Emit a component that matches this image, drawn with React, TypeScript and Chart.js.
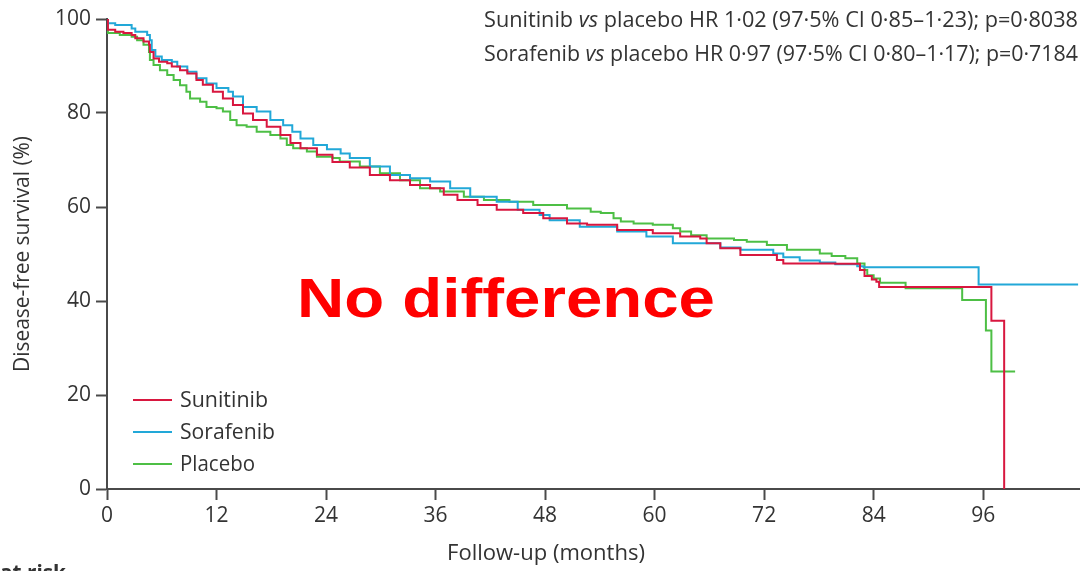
import { useEffect, useRef } from 'react';
import { Chart, registerables } from 'chart.js';

Chart.register(...registerables);

const FONT = '"Open Sans", Lato, sans-serif';
const TEXT_COLOR = '#333333';

// Kaplan–Meier step data: month of event, survival (%) after the event
const sunitinibMonths = [0, 0.1, 0.9, 1.8, 2.7, 3.1, 4.0, 4.6, 4.7, 5.1, 5.7, 6.6, 7.1, 8.0, 8.8, 9.8, 10.5, 11.6, 12.7, 13.8, 14.9, 16.0, 17.5, 19.0, 20.1, 21.2, 23.0, 24.7, 26.6, 28.8, 31.0, 33.2, 35.4, 36.9, 38.4, 40.6, 42.7, 45.6, 47.8, 50.4, 52.6, 55.9, 59.8, 62.8, 65.0, 65.7, 67.2, 69.4, 73.4, 74.1, 79.8, 82.5, 83.0, 83.8, 84.3, 84.6, 96.9, 98.3];
const sunitinibSurvival = [100, 97.7, 97.3, 97.0, 96.6, 95.9, 95.2, 94.5, 93.0, 91.6, 90.9, 90.6, 89.9, 89.1, 88.4, 87.0, 86.0, 84.5, 83.1, 81.7, 79.9, 78.5, 77.1, 75.3, 73.6, 72.5, 71.1, 69.6, 68.4, 66.8, 65.7, 64.7, 64.0, 62.6, 61.5, 60.4, 59.4, 58.7, 57.6, 56.5, 56.2, 55.1, 54.4, 53.7, 53.3, 52.3, 51.2, 49.8, 48.7, 48.0, 47.9, 46.6, 45.3, 44.6, 44.1, 43.0, 35.8, 0];

const sorafenibMonths = [0, 0.1, 0.9, 2.7, 3.1, 4.4, 4.7, 4.9, 5.3, 6.0, 7.1, 7.7, 8.8, 9.8, 10.9, 12.0, 13.3, 13.8, 14.9, 16.4, 17.9, 19.3, 20.3, 21.2, 22.6, 24.1, 25.6, 26.6, 28.8, 31.0, 33.2, 35.4, 37.6, 39.8, 42.7, 45.0, 47.4, 48.5, 51.8, 55.9, 59.1, 62.0, 67.2, 69.4, 73.0, 74.1, 75.9, 78.1, 79.8, 82.2, 82.9, 95.5, 106.4];
const sorafenibSurvival = [100, 99.1, 98.7, 98.0, 97.3, 96.6, 95.5, 93.4, 92.0, 91.3, 90.9, 89.9, 88.8, 87.4, 86.3, 85.3, 84.5, 83.5, 81.3, 80.3, 78.5, 77.4, 76.0, 74.6, 73.2, 72.3, 71.4, 70.4, 68.6, 66.8, 66.1, 65.4, 64.0, 62.2, 61.1, 59.4, 58.3, 57.2, 55.8, 54.8, 53.7, 52.3, 51.4, 50.9, 50.1, 49.3, 48.6, 48.2, 47.8, 47.4, 47.2, 43.5, 43.5];

const placeboMonths = [0, 0.1, 1.4, 2.7, 3.3, 4.0, 4.6, 4.7, 5.1, 5.8, 6.6, 7.3, 8.0, 8.7, 9.1, 10.2, 10.9, 12.0, 12.7, 13.5, 14.2, 15.3, 16.4, 17.9, 19.0, 19.7, 20.4, 21.9, 23.0, 24.7, 25.5, 27.7, 29.9, 32.1, 34.3, 36.5, 39.1, 41.3, 44.1, 46.7, 50.4, 53.0, 54.1, 55.5, 56.3, 57.7, 59.8, 62.0, 62.8, 64.0, 65.7, 68.7, 70.1, 72.3, 74.5, 78.1, 79.4, 80.9, 82.2, 83.0, 83.3, 84.0, 84.7, 87.5, 93.7, 96.3, 96.9, 99.5];
const placeboSurvival = [100, 97.0, 96.6, 96.2, 95.5, 94.5, 93.0, 91.3, 90.2, 89.1, 88.1, 87.0, 85.9, 84.5, 83.1, 82.4, 81.3, 81.0, 80.3, 78.5, 77.4, 77.1, 76.0, 75.3, 74.6, 73.2, 72.5, 71.8, 70.7, 70.4, 69.7, 68.6, 67.2, 65.7, 64.0, 63.3, 62.2, 61.5, 61.1, 60.4, 59.7, 59.0, 58.7, 57.6, 56.9, 56.5, 56.2, 55.5, 54.8, 54.0, 53.3, 53.0, 52.6, 51.9, 50.9, 50.1, 49.6, 49.1, 48.0, 46.6, 45.5, 44.8, 43.9, 42.7, 40.2, 33.7, 25.0, 25.0];

const seriesNames = ['Sunitinib', 'Sorafenib', 'Placebo'];
const seriesColors = ['#d8173f', '#22a8d8', '#4dbf45'];

const annotationLines = [
  ['Sunitinib ', 'vs', ' placebo HR 1·02 (97·5% CI 0·85–1·23); p=0·8038'],
  ['Sorafenib ', 'vs', ' placebo HR 0·97 (97·5% CI 0·80–1·17); p=0·7184'],
];
const bigLabel = 'No difference';
const yTitle = 'Disease-free survival (%)';
const xTitle = 'Follow-up (months)';
const riskLabel = 'at risk';

const toPoints = (ms: number[], vs: number[]) => ms.map((m, i) => ({ x: m, y: vs[i] }));

// draw text with a horizontal squeeze so it fills a target width (condensed look)
function drawCondensed(
  ctx: CanvasRenderingContext2D,
  text: string,
  x: number,
  y: number,
  font: string,
  width: number,
  align: 'left' | 'center' | 'right',
) {
  ctx.font = font;
  const w = ctx.measureText(text).width;
  const sx = width / w;
  ctx.save();
  ctx.translate(x, y);
  ctx.scale(sx, 1);
  ctx.textAlign = align;
  ctx.fillText(text, 0, 0);
  ctx.restore();
}

const textPlugin = {
  id: 'texts',
  afterDraw(chart: any) {
    const ctx: CanvasRenderingContext2D = chart.ctx;
    ctx.save();
    ctx.fillStyle = TEXT_COLOR;
    ctx.textBaseline = 'alphabetic';

    // annotation (right aligned, mixed italic, condensed)
    const aSize = 22;
    const fontFor = (i: number) => `${i === 1 ? 'italic ' : ''}${aSize}px ${FONT}`;
    const measureLine = (segs: string[]) =>
      segs.reduce((w, s, i) => {
        ctx.font = fontFor(i);
        return w + ctx.measureText(s).width;
      }, 0);
    const targetW = [594, 594];
    const baselines = [27, 61];
    annotationLines.forEach((segs, li) => {
      const total = measureLine(segs);
      const sx = targetW[li] / total;
      ctx.save();
      ctx.translate(1078 - targetW[li], baselines[li]);
      ctx.scale(sx, 1);
      let x = 0;
      segs.forEach((s, i) => {
        ctx.font = fontFor(i);
        ctx.textAlign = 'left';
        ctx.fillText(s, x, 0);
        x += ctx.measureText(s).width;
      });
      ctx.restore();
    });

    // big red label
    ctx.fillStyle = '#ff0000';
    drawCondensed(ctx, bigLabel, 297, 317, 'bold 56px "Liberation Sans", Arial, sans-serif', 418, 'left');

    // legend
    ctx.fillStyle = TEXT_COLOR;
    const legendY = [400, 432, 464];
    const legendW = [88, 95, 75];
    seriesNames.forEach((name, i) => {
      ctx.strokeStyle = seriesColors[i];
      ctx.lineWidth = 2;
      ctx.beginPath();
      ctx.moveTo(133, legendY[i]);
      ctx.lineTo(172, legendY[i]);
      ctx.stroke();
      drawCondensed(ctx, name, 180, legendY[i] + 7, `21px ${FONT}`, legendW[i], 'left');
    });

    // axis titles
    ctx.save();
    ctx.translate(29, 254);
    ctx.rotate(-Math.PI / 2);
    drawCondensed(ctx, yTitle, 0, 0, `21px ${FONT}`, 236, 'center');
    ctx.restore();

    drawCondensed(ctx, xTitle, 546, 560, `21px ${FONT}`, 198, 'center');

    // cut-off "at risk"
    drawCondensed(ctx, riskLabel, 0, 580, `bold 22px ${FONT}`, 66, 'left');

    ctx.restore();
  },
};

export default function App() {
  const ref = useRef<HTMLCanvasElement>(null);
  useEffect(() => {
    if (!ref.current) return;
    const axisColor = '#4a4a4a';
    const chart = new Chart(ref.current, {
      type: 'line',
      data: {
        datasets: [
          { label: seriesNames[0], data: toPoints(sunitinibMonths, sunitinibSurvival), borderColor: seriesColors[0] },
          { label: seriesNames[1], data: toPoints(sorafenibMonths, sorafenibSurvival), borderColor: seriesColors[1] },
          { label: seriesNames[2], data: toPoints(placeboMonths, placeboSurvival), borderColor: seriesColors[2] },
        ].map((d) => ({ ...d, stepped: 'before' as const, borderWidth: 2, pointRadius: 0, fill: false, tension: 0 })),
      },
      options: {
        animation: false,
        responsive: false,
        devicePixelRatio: 1,
        layout: { padding: { top: 19, right: 5, bottom: 0, left: 0 } },
        plugins: { legend: { display: false }, tooltip: { enabled: false } },
        scales: {
          x: {
            type: 'linear',
            min: 0,
            max: 106.5,
            afterFit: (s: any) => { s.height = 82; },
            ticks: { stepSize: 12, includeBounds: false, color: TEXT_COLOR, font: { family: FONT, size: 21 }, padding: 3, maxRotation: 0 },
            grid: { drawOnChartArea: false, drawTicks: true, tickLength: 11, tickColor: axisColor, tickWidth: 2 },
            border: { color: axisColor, width: 2 },
          },
          y: {
            min: 0,
            max: 100,
            afterFit: (s: any) => { s.width = 107; },
            ticks: { stepSize: 20, color: TEXT_COLOR, font: { family: FONT, size: 21 }, padding: 5 },
            grid: { drawOnChartArea: false, drawTicks: true, tickLength: 11, tickColor: axisColor, tickWidth: 2 },
            border: { color: axisColor, width: 2 },
          },
        },
      },
      plugins: [textPlugin],
    });
    return () => chart.destroy();
  }, []);
  return (
    <div style={{ position: 'absolute', left: 0, top: 0, width: 1084, height: 571, background: '#fff' }}>
      <canvas ref={ref} width={1084} height={571} style={{ display: 'block' }} />
    </div>
  );
}
